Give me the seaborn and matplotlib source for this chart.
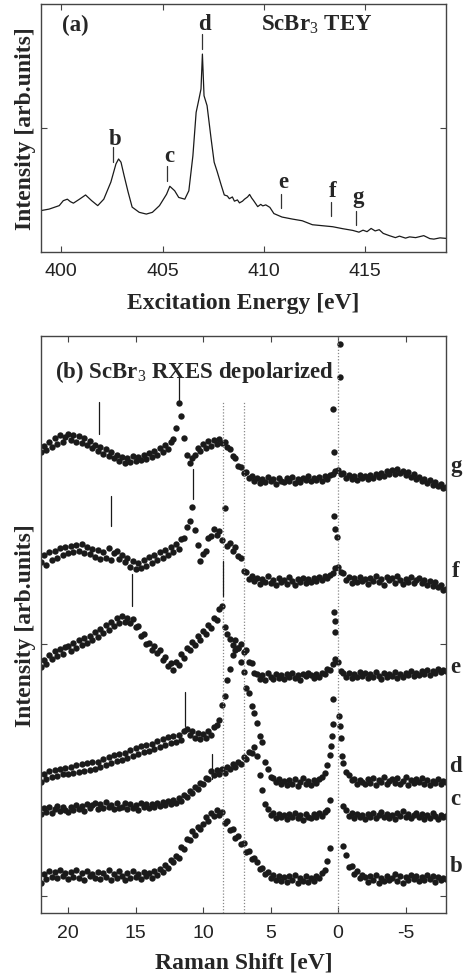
import matplotlib
matplotlib.use("Agg")
import matplotlib.pyplot as plt
import numpy as np
import pandas as pd
import seaborn as sns

nan = np.nan

# (a) ScBr3 TEY spectrum
tey_energy = [399.0, 399.4, 399.9, 400.1, 400.3, 400.45, 400.6, 400.9, 401.2, 401.5,
              401.8, 402.1, 402.45, 402.7, 402.83, 402.95, 403.1, 403.3, 403.5, 403.85,
              404.2, 404.5, 404.85, 405.2, 405.36, 405.6, 405.8, 406.1, 406.3, 406.5,
              406.66, 406.8, 406.9, 406.97, 407.05, 407.2, 407.4, 407.55, 407.7, 407.9,
              408.05, 408.2, 408.3, 408.45, 408.55, 408.7, 408.8, 408.95, 409.05, 409.2,
              409.3, 409.4, 409.5, 409.7, 409.85, 409.95, 410.1, 410.3, 410.5, 410.9,
              411.4, 411.9, 412.4, 412.9, 413.4, 413.9, 414.4, 414.7, 414.9, 415.1,
              415.3, 415.5, 415.7, 415.9, 416.2, 416.5, 416.7, 417.0, 417.2, 417.5,
              417.9, 418.2, 418.4, 418.7, 419.0]
tey_intensity = [0.167, 0.173, 0.187, 0.207, 0.213, 0.203, 0.197, 0.213, 0.230, 0.207,
                 0.187, 0.213, 0.282, 0.355, 0.375, 0.362, 0.309, 0.242, 0.181, 0.160,
                 0.153, 0.160, 0.187, 0.233, 0.265, 0.247, 0.220, 0.213, 0.247, 0.388,
                 0.563, 0.617, 0.657, 0.798, 0.630, 0.590, 0.456, 0.362, 0.324, 0.269,
                 0.230, 0.226, 0.215, 0.222, 0.205, 0.210, 0.198, 0.205, 0.213, 0.222,
                 0.232, 0.218, 0.207, 0.183, 0.192, 0.186, 0.190, 0.180, 0.155, 0.141,
                 0.133, 0.126, 0.110, 0.106, 0.102, 0.094, 0.087, 0.080, 0.088, 0.082,
                 0.095, 0.085, 0.090, 0.075, 0.066, 0.058, 0.064, 0.056, 0.061, 0.058,
                 0.066, 0.054, 0.052, 0.057, 0.055]

# excitation energies marked on the TEY curve
tey_marks = ['b', 'c', 'd', 'e', 'f', 'g']
tey_mark_energy = [402.57, 405.23, 406.96, 410.85, 413.3, 414.55]
tey_mark_low = [0.363, 0.286, 0.819, 0.177, 0.145, 0.109]
tey_mark_high = [0.423, 0.347, 0.879, 0.234, 0.202, 0.165]
tey_text_y = [0.435, 0.367, 0.899, 0.262, 0.226, 0.200]

# (b) RXES spectra, intensity above each baseline
raman_shift = [22.0, 21.8, 21.6, 21.4, 21.2, 21.0, 20.8, 20.6, 20.4, 20.2,
               20.0, 19.8, 19.6, 19.4, 19.2, 19.0, 18.8, 18.6, 18.4, 18.2,
               18.0, 17.8, 17.6, 17.4, 17.2, 17.0, 16.8, 16.6, 16.4, 16.2,
               16.0, 15.8, 15.6, 15.4, 15.2, 15.0, 14.8, 14.6, 14.4, 14.2,
               14.0, 13.8, 13.6, 13.4, 13.2, 13.0, 12.8, 12.6, 12.4, 12.2,
               12.0, 11.8, 11.6, 11.4, 11.2, 11.0, 10.8, 10.6, 10.4, 10.2,
               10.0, 9.8, 9.6, 9.4, 9.2, 9.0, 8.8, 8.6, 8.4, 8.2,
               8.0, 7.8, 7.6, 7.4, 7.2, 7.0, 6.8, 6.6, 6.4, 6.2,
               6.0, 5.8, 5.6, 5.4, 5.2, 5.0, 4.8, 4.6, 4.4, 4.2,
               4.0, 3.8, 3.6, 3.4, 3.2, 3.0, 2.8, 2.6, 2.4, 2.2,
               2.0, 1.8, 1.6, 1.4, 1.2, 1.0, 0.8, 0.6, 0.4, 0.2,
               0.0, -0.2, -0.4, -0.6, -0.8, -1.0, -1.2, -1.4, -1.6, -1.8,
               -2.0, -2.2, -2.4, -2.6, -2.8, -3.0, -3.2, -3.4, -3.6, -3.8,
               -4.0, -4.2, -4.4, -4.6, -4.8, -5.0, -5.2, -5.4, -5.6, -5.8,
               -6.0, -6.2, -6.4, -6.6, -6.8, -7.0, -7.2, -7.4, -7.6, -7.8,
               -8.0]

rxes_b = [-1, 8, 3, 11, 5, 10, 4, 12, 6, 9,
          3, 10, 5, 12, 4, 9, 2, 11, 6, 8,
          4, 10, 3, 9, 5, 12, 2, 8, 4, 11,
          6, 2, 9, 4, 11, 5, 8, 3, 10, 6,
          9, 4, 11, 7, 13, 10, 17, 14, 22, 20,
          26, 24, 35, 33, 43, 42, 51, 47, 55, 53,
          58, 65, 61, 69, 66, 72, 67, 70, 59, 61,
          52, 53, 44, 46, 38, 39, 30, 31, 23, 24,
          20, 13, 14, 8, 10, 4, 7, 2, 6, 1,
          5, 0, 6, 2, 7, -1, 4, 1, 6, 0,
          4, 1, 6, 4, 9, 12, 21, 34, nan, nan,
          nan, nan, 36, 27, 15, 16, 8, 11, 4, 7,
          5, 0, 6, 2, 7, -1, 4, 1, 6, 2,
          4, 8, 1, 6, -1, 5, 2, 7, 3, 6,
          1, 5, 2, 7, 3, 6, 0, 5, 2, 4,
          3]
rxes_c = [5, 11, 7, 12, 6, 10, 13, 8, 12, 9,
          7, 12, 9, 14, 10, 13, 8, 15, 11, 14,
          16, 10, 15, 11, 17, 12, 14, 10, 16, 11,
          12, 16, 10, 15, 11, 14, 9, 16, 12, 15,
          11, 15, 12, 16, 13, 17, 14, 18, 15, 19,
          16, 21, 18, 24, 22, 28, 26, 32, 30, 36,
          35, 41, 40, 48, 44, 49, 45, 50, 46, 52,
          50, 55, 52, 57, 55, 62, 60, 67, 66, 72,
          63, 44, 29, 15, 10, 4, 6, 1, 5, 2,
          4, 0, 5, 2, 6, 1, 4, -1, 5, 2,
          1, 5, 2, 6, 3, 7, 9, 19, nan, nan,
          nan, nan, 13, 9, 3, 6, 1, 5, 2, 4,
          0, 5, 2, 6, 1, 4, 7, 2, 5, 1,
          4, 0, 6, 3, 8, 2, 5, 1, 4, 6,
          2, 5, 0, 4, 1, 6, 3, 0, 4, 2,
          3]
rxes_d = [4, 12, 7, 15, 9, 16, 10, 17, 12, 18,
          12, 19, 13, 21, 14, 22, 15, 23, 16, 24,
          17, 24, 19, 27, 21, 29, 23, 31, 25, 32,
          26, 33, 28, 36, 30, 38, 32, 40, 34, 41,
          35, 42, 37, 45, 39, 47, 41, 49, 43, 50,
          44, 51, 46, 55, 57, 51, 55, 48, 53, 47,
          52, 48, 55, 51, 59, 61, 66, 81, 90, 106,
          117, 131, 136, 138, 124, 114, 98, 93, 80, 73,
          63, 50, 44, 24, 17, 9, 8, 4, 7, 2,
          5, 1, 6, 2, 7, 0, 4, 8, 2, 5,
          1, 6, 3, 7, 9, 13, 21, 31, nan, nan,
          nan, 48, 23, 14, 11, 6, 7, 2, 6, 4,
          2, 7, 3, 8, 1, 6, 4, 9, 2, 5,
          7, 3, 8, 2, 5, 9, 1, 6, 3, 7,
          4, 8, 2, 6, 1, 5, 3, 7, 2, 5,
          4]
rxes_e = [10, 17, 13, 22, 18, 26, 21, 28, 23, 30,
          31, 26, 34, 29, 37, 32, 39, 34, 41, 37,
          45, 40, 48, 44, 52, 47, 55, 51, 59, 54,
          61, 55, 59, 54, 58, 50, 51, 41, 43, 33,
          34, 27, 31, 24, 27, 17, 20, 11, 14, 7,
          15, 12, 23, 19, 29, 27, 35, 32, 41, 37,
          46, 43, 52, 49, 59, 57, 68, 71, 50, 43,
          38, 32, 37, 29, 33, 25, 27, 15, 14, 4,
          3, -2, 2, -3, 4, 0, -2, 3, -1, 2,
          -2, 3, 0, 4, -1, 2, -3, 3, 1, 4,
          2, -1, 3, 0, 4, 3, 8, 7, 13, 18,
          15, 6, 4, 0, 4, -1, 3, 0, 5, 1,
          4, -1, 3, 0, 5, 1, -2, 4, 0, 3,
          1, 5, -1, 3, 0, 4, 2, 6, 1, 4,
          2, 6, 3, 7, 2, 6, 4, 8, 5, 7,
          6]
rxes_f = [20, 27, 17, 30, 22, 31, 24, 34, 27, 35,
          29, 36, 30, 37, 31, 38, 29, 35, 28, 33,
          25, 32, 23, 30, 24, 34, 22, 29, 31, 23,
          27, 20, 24, 15, 21, 13, 19, 14, 22, 16,
          25, 19, 27, 22, 30, 24, 32, 27, 35, 30,
          38, 33, 43, 44, 55, 61, 75, 52, 37, 21,
          28, 31, 44, 46, 53, 47, 51, 42, 74, 36,
          39, 31, 35, 26, 24, 11, 10, 3, 6, 1,
          4, -2, 3, 0, 6, -1, 2, -3, 4, 0,
          2, -2, 5, 1, -3, 3, 0, 4, -1, 3,
          0, 4, 1, 5, 2, 6, 4, 7, 9, 14,
          15, 10, 9, 2, 5, -1, 4, 0, 5, 1,
          3, -2, 4, 1, 6, 0, 3, -3, 5, 2,
          4, -1, 6, 2, -2, 3, 0, 5, -1, 2,
          4, -1, 2, -3, 1, -4, 0, -5, -3, -8,
          -7]
rxes_g = [30, 36, 32, 40, 35, 44, 38, 47, 40, 45,
          48, 42, 47, 40, 46, 39, 44, 37, 41, 34,
          37, 31, 35, 28, 33, 26, 30, 24, 27, 21,
          25, 19, 24, 20, 26, 21, 25, 22, 27, 23,
          29, 25, 31, 27, 34, 30, 37, 33, 40, 43,
          54, 79, 66, 44, 27, 19, 24, 27, 34, 31,
          38, 34, 41, 36, 42, 38, 43, 39, 40, 35,
          33, 26, 24, 16, 15, 9, 10, 4, 6, 1,
          4, -1, 3, 0, 5, 1, 3, -2, 4, 1,
          0, 4, 1, 5, -1, 3, 0, 4, 2, 6,
          1, 4, 2, 5, 1, 6, 3, 7, 8, 11,
          12, 8, 9, 4, 7, 3, 6, 2, 7, 4,
          6, 3, 7, 4, 8, 5, 9, 6, 11, 8,
          12, 8, 13, 9, 11, 7, 10, 5, 8, 3,
          5, 1, 3, -1, 2, -3, 0, -4, -2, -6,
          -5]

# extra points on the steep elastic line
elastic_d_shift = [0.5, 0.45, 0.4, 0.35, -0.1, -0.15, -0.3]
elastic_d = [40, 50, 62, 87, 70, 60, 30]
elastic_e_shift = [0.3, 0.25, 0.2]
elastic_e = [65, 56, 45]
elastic_f_shift = [0.3, 0.2, 0.1]
elastic_f = [66, 53, 45]
elastic_g_shift = [0.35, 0.33, -0.15, -0.18]
elastic_g = [73, 30, 105, 138]

spectrum_names = ['b', 'c', 'd', 'e', 'f', 'g']
spectrum_offsets = [14, 77, 110, 219, 314, 414]
spectrum_values = [rxes_b, rxes_c, rxes_d, rxes_e, rxes_f, rxes_g]
elastic_points = {'d': (elastic_d_shift, elastic_d), 'e': (elastic_e_shift, elastic_e),
                  'f': (elastic_f_shift, elastic_f), 'g': (elastic_g_shift, elastic_g)}
label_heights = [11, 15, 15, 5, 6, 11]

# feature markers: spectrum, shift, low, high (above baseline)
feature_marks = [('c', 9.35, 40, 65), ('d', 11.3, 60, 94),
                 ('e', 15.25, 71, 103), ('e', 8.55, 81, 116),
                 ('f', 16.8, 56, 86), ('f', 10.75, 83, 113),
                 ('g', 17.7, 48, 80), ('g', 11.75, 81, 106)]

frames = []
for name, vals, off in zip(spectrum_names, spectrum_values, spectrum_offsets):
    frames.append(pd.DataFrame({'shift': raman_shift,
                                'intensity': np.array(vals, dtype=float) + off,
                                'spectrum': name}))
    if name in elastic_points:
        ex, ey = elastic_points[name]
        frames.append(pd.DataFrame({'shift': ex,
                                    'intensity': np.array(ey, dtype=float) + off,
                                    'spectrum': name}))
rxes = pd.concat(frames, ignore_index=True).dropna()
offset_of = dict(zip(spectrum_names, spectrum_offsets))

sns.set_style('ticks')
plt.rcParams['font.family'] = ['Liberation Sans', 'DejaVu Sans']
plt.rcParams['axes.unicode_minus'] = False
plt.rcParams['mathtext.fontset'] = 'custom'
plt.rcParams['mathtext.rm'] = 'Liberation Serif'
plt.rcParams['mathtext.it'] = 'Liberation Serif:italic'
plt.rcParams['mathtext.bf'] = 'Liberation Serif:bold'

serif = dict(family=['Liberation Serif', 'DejaVu Serif'], fontweight='bold')
ink = '#1a1a1a'
frame = '#444444'
big = 17
mid = 16.5

fig = plt.figure(figsize=(4.65, 9.78), dpi=100)
ax_a = fig.add_axes([0.0882, 0.7413, 0.871, 0.2536])
ax_b = fig.add_axes([0.0882, 0.0654, 0.871, 0.590])

# ---- panel (a)
sns.lineplot(x=tey_energy, y=tey_intensity, ax=ax_a, color=ink, lw=0.9,
             estimator=None, sort=False)
for lab, en, lo, hi, ty in zip(tey_marks, tey_mark_energy, tey_mark_low,
                               tey_mark_high, tey_text_y):
    ax_a.plot([en, en], [lo, hi], color='#333333', lw=0.9)
    ax_a.text(en + 0.1, ty, lab, ha='center', va='baseline', fontsize=mid, **serif)
ax_a.set_xlim(399, 419)
ax_a.set_ylim(0, 1)
ax_a.set_xticks([400, 405, 410, 415])
ax_a.set_yticks([0.5])
ax_a.text(0.052, 0.895, '(a)', transform=ax_a.transAxes, ha='left',
          va='baseline', fontsize=mid, **serif)
ax_a.text(0.68, 0.895, 'ScBr$_3$ TEY', transform=ax_a.transAxes, ha='center',
          va='baseline', fontsize=mid, **serif)
ax_a.set_xlabel('Excitation Energy [eV]', fontsize=big, **serif)
ax_a.set_ylabel('Intensity [arb.units]', fontsize=big, **serif)
ax_a.xaxis.set_label_coords(0.5, -0.16)
ax_a.yaxis.set_label_coords(-0.012, 0.5)

# ---- panel (b)
for x0, top in [(8.5, 494), (7.0, 494), (0.0, 560)]:
    ax_b.vlines(x0, -17, top, colors='#888888', linestyles=(0, (1, 1.5)), lw=0.9)
sns.scatterplot(data=rxes, x='shift', y='intensity', ax=ax_b, color=ink, s=21,
                linewidth=0, legend=False)
for name, x0, lo, hi in feature_marks:
    off = offset_of[name]
    ax_b.plot([x0, x0], [off + lo, off + hi], color=ink, lw=0.9)
for name, off, h in zip(spectrum_names, spectrum_offsets, label_heights):
    ax_b.text(1.024, off + h, name, transform=ax_b.get_yaxis_transform(),
              ha='center', va='baseline', fontsize=mid, **serif)
ax_b.set_xlim(22, -8)
ax_b.set_ylim(-17, 560)
ax_b.set_xticks([20, 15, 10, 5, 0, -5])
ax_b.set_yticks([0, 252])
ax_b.text(0.035, 0.929, '(b) ScBr$_3$ RXES depolarized', transform=ax_b.transAxes,
          ha='left', va='baseline', fontsize=mid, **serif)
ax_b.set_xlabel('Raman Shift [eV]', fontsize=big, **serif)
ax_b.set_ylabel('Intensity [arb.units]', fontsize=big, **serif)
ax_b.xaxis.set_label_coords(0.5, -0.066)
ax_b.yaxis.set_label_coords(-0.012, 0.5)

for ax, pad in ((ax_a, 7), (ax_b, 8)):
    ax.set_yticklabels([])
    ax.tick_params(direction='in', top=True, right=True, length=4, width=0.8,
                   color=frame, labelsize=14, pad=pad, labelcolor='#222222')
    for sp in ax.spines.values():
        sp.set_color(frame)
        sp.set_linewidth(1.0)

fig.savefig('out.png', dpi=100)
